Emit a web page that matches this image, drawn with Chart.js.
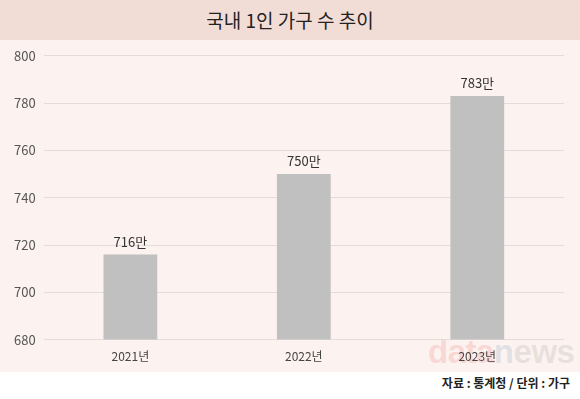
<!DOCTYPE html>
<html>
<head>
<meta charset="utf-8">
<script src="https://cdn.jsdelivr.net/npm/chart.js@4"></script>
<style>
  html, body { margin: 0; padding: 0; background: #fff; }
  body { width: 580px; height: 399px; overflow: hidden; font-family: 'Noto Sans CJK KR', sans-serif; }
  #title {
    height: 40px; line-height: 40px; background: #f2ddd6;
    text-align: center; font-size: 19px; color: #222;
  }
  #chartBox { position: relative; height: 332px; background: #fcf2ef; }
  #chartBox canvas { position: relative; z-index: 1; }
  #mark {
    position: absolute; left: 428px; top: 293px; z-index: 0; line-height: 1;
    font: bold 33px 'Liberation Sans', Arial, sans-serif; letter-spacing: -0.5px;
  }
  #source {
    text-align: right; padding-right: 10px; margin-top: 2px;
    font-size: 12px; color: #222; font-weight: bold;
  }
</style>
</head>
<body>
<div id="title">국내 1인 가구 수 추이</div>
<div id="chartBox">
  <div id="mark"><span style="color:rgba(235,120,120,0.22)">data</span><span style="color:rgba(140,170,200,0.25)">n</span><span style="color:rgba(160,160,160,0.22)">ews</span></div>
  <canvas id="chart"></canvas>
</div>
<div id="source">자료 : 통계청 / 단위 : 가구</div>

<script>
// values in 만 가구
const years = ['2021년', '2022년', '2023년'];
const households = [716, 750, 783];
const valueLabels = ['716만', '750만', '783만'];

// draws the value label over every bar
const barLabels = {
  id: 'barLabels',
  afterDatasetsDraw(chart) {
    const ctx = chart.ctx;
    const meta = chart.getDatasetMeta(0);
    ctx.save();
    ctx.font = "13px 'Noto Sans CJK KR', sans-serif";
    ctx.fillStyle = '#333';
    ctx.textAlign = 'center';
    ctx.textBaseline = 'bottom';
    meta.data.forEach((bar, i) => {
      ctx.fillText(valueLabels[i], bar.x, bar.y - 6);
    });
    ctx.restore();
  }
};

new Chart(document.getElementById('chart'), {
  type: 'bar',
  data: {
    labels: years,
    datasets: [{
      data: households,
      backgroundColor: '#c0c0c0',
      borderWidth: 0,
      barPercentage: 0.31,
      categoryPercentage: 1
    }]
  },
  options: {
    responsive: true,
    maintainAspectRatio: false,
    animation: false,
    layout: { padding: { top: 8, right: 16, left: 6, bottom: 6 } },
    plugins: {
      legend: { display: false },
      tooltip: { enabled: false }
    },
    scales: {
      x: {
        grid: { display: false },
        border: { display: false },
        ticks: { color: '#444', font: { size: 12, family: "'Noto Sans CJK KR', sans-serif" }, padding: 2 }
      },
      y: {
        min: 680,
        max: 800,
        ticks: { stepSize: 20, color: '#555', padding: 8, font: { size: 13, family: "'Noto Sans CJK KR', sans-serif" } },
        grid: { color: '#e4dcd9', drawTicks: false },
        border: { display: false }
      }
    }
  },
  plugins: [barLabels]
});
</script>
</body>
</html>
